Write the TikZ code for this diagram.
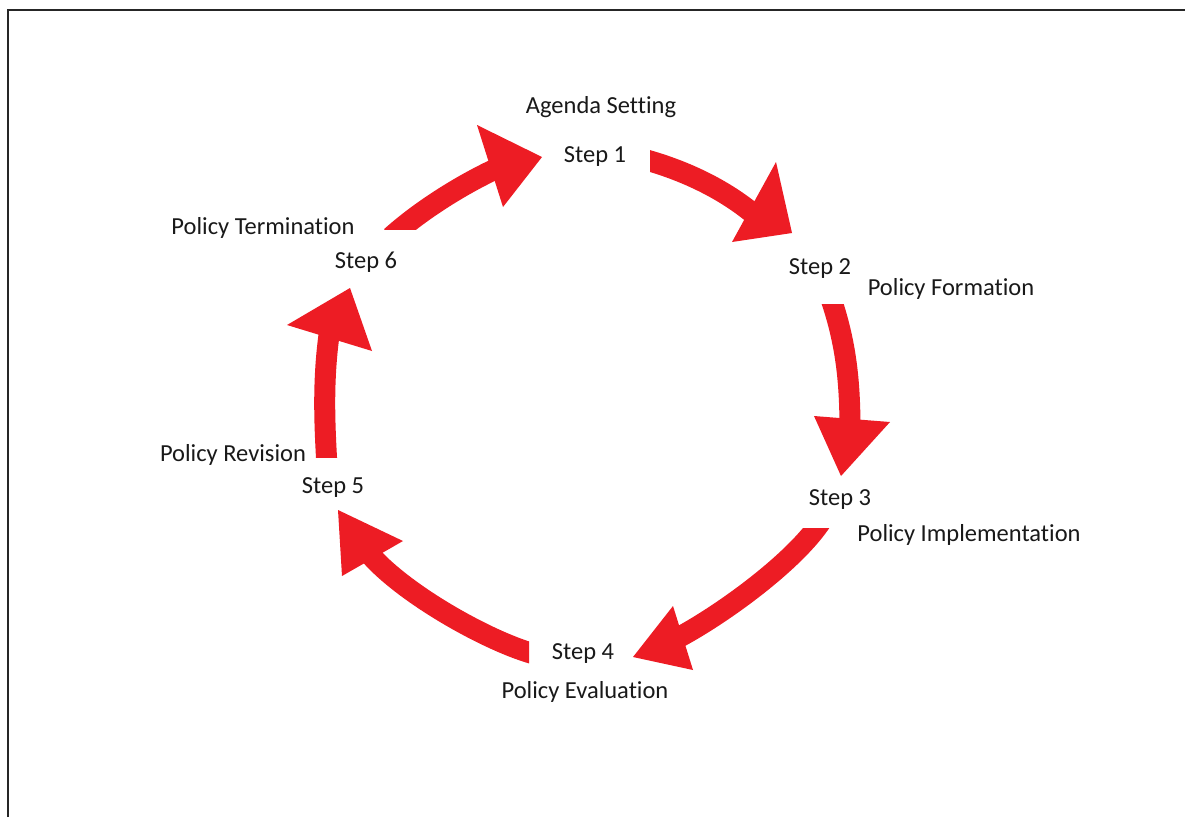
\documentclass[tikz,border=0pt]{standalone}
\usepackage{fontspec}
\setmainfont[Ligatures={NoCommon}]{Carlito}
\begin{document}
\begin{tikzpicture}[x=1pt,y=-1pt,
  lbl/.style={font=\fontsize{24.5}{28}\selectfont, text=black!90, inner sep=0pt},
  shaft/.style={draw=arrred, line width=21pt},
  headtri/.style={fill=arrred},
  frame/.style={draw=black!85, line width=2pt}]
\definecolor{arrred}{HTML}{ED1C24}
\useasboundingbox (0,0) rectangle (1185,817);
\fill[white] (0,0) rectangle (1185,817);
% frame
\coordinate (fr1) at (8,817);
\coordinate (fr2) at (8,10);
\coordinate (fr3) at (1185,10);
\draw[frame] (fr1) -- (fr2) -- (fr3);
% labels
\node[lbl] (agenda) at (601,107) {Agenda Setting};
\node[lbl] (s1) at (595,157) {Step 1};
\node[lbl] (s2) at (820,269) {Step 2};
\node[lbl] (form) at (951,289) {Policy Formation};
\node[lbl] (s3) at (840,500) {Step 3};
\node[lbl] (impl) at (969,535) {Policy Implementation};
\node[lbl] (s4) at (583,654) {Step 4};
\node[lbl] (eval) at (585,692) {Policy Evaluation};
\node[lbl] (s5) at (333,488) {Step 5};
\node[lbl] (rev) at (233,455) {Policy Revision};
\node[lbl] (s6) at (366,262) {Step 6};
\node[lbl] (term) at (263,228) {Policy Termination};
% arrow 6 -> 1
\coordinate (t1) at (391,237);
\coordinate (b1) at (502,166);
\begin{scope}
\clip (0,0) rectangle (1185,229);
\draw[shaft] (t1) .. controls (421,210) and (464,183) .. (b1);
\end{scope}
\fill[headtri] (477,125) -- (542,157) -- (503,207) -- cycle;
% arrow 1 -> 2
\coordinate (t2) at (641,158.5);
\coordinate (b2) at (756,216);
\begin{scope}
\clip (650,0) rectangle (1185,817);
\draw[shaft] (t2) .. controls (684,170) and (724,189) .. (b2);
\end{scope}
\fill[headtri] (776,162) -- (792,233) -- (732,242) -- cycle;
% arrow 2 -> 3
\coordinate (t3) at (830,296);
\coordinate (b3) at (850,430);
\begin{scope}
\clip (0,304) rectangle (1185,817);
\draw[shaft] (t3) .. controls (846,342) and (850,381) .. (b3);
\end{scope}
\fill[headtri] (814,416) -- (890,422) -- (841,476) -- cycle;
% arrow 3 -> 4
\coordinate (t4) at (822,520);
\coordinate (b4) at (672,641);
\begin{scope}
\clip (0,528) rectangle (1185,817);
\draw[shaft] (t4) .. controls (795,562) and (719,617) .. (b4);
\end{scope}
\fill[headtri] (673,606) -- (693,670) -- (633,657) -- cycle;
% arrow 4 -> 5
\coordinate (t5) at (538,655);
\coordinate (b5) at (367,551);
\begin{scope}
\clip (0,0) rectangle (529,817);
\draw[shaft] (t5) .. controls (490,643) and (400,592) .. (b5);
\end{scope}
\fill[headtri] (338,510) -- (403,541) -- (342,576) -- cycle;
% arrow 5 -> 6
\coordinate (t6) at (327,466);
\coordinate (b6) at (330,328);
\begin{scope}
\clip (0,0) rectangle (1185,457);
\draw[shaft] (t6) .. controls (324,417) and (323,375) .. (b6);
\end{scope}
\fill[headtri] (287,325) -- (350,288) -- (372,351) -- cycle;
\end{tikzpicture}
\end{document}
